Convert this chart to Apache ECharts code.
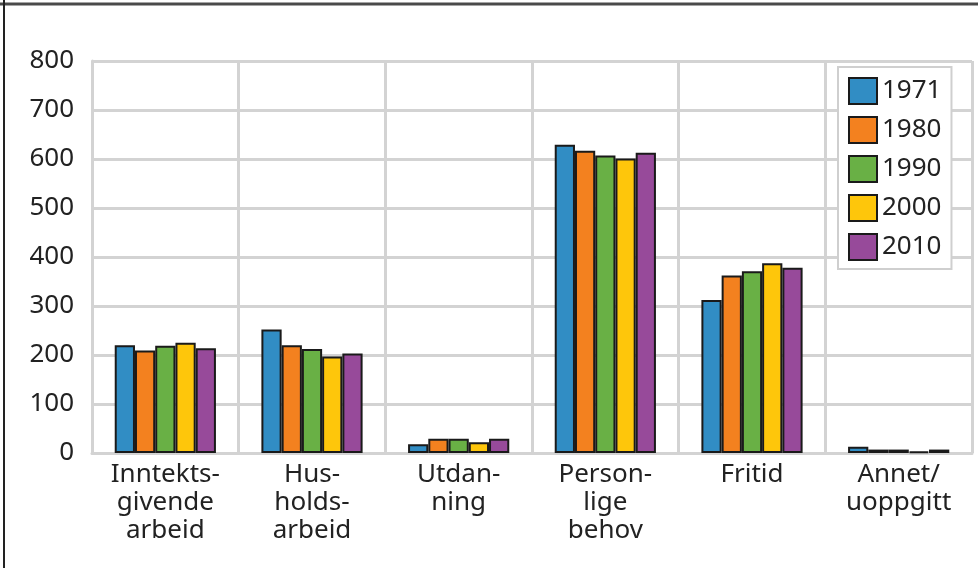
<!DOCTYPE html>
<html>
<head>
<meta charset="utf-8">
<style>html,body{margin:0;padding:0;background:#fff}#c{width:978px;height:568px}</style>
<script src="https://cdn.jsdelivr.net/npm/echarts@6/dist/echarts.min.js"></script>
</head>
<body>
<div id="c"></div>
<script>
const categories = ['Inntekts-\ngivende\narbeid', 'Hus-\nholds-\narbeid', 'Utdan-\nning', 'Person-\nlige\nbehov', 'Fritid', 'Annet/\nuoppgitt'];
const years = ['1971', '1980', '1990', '2000', '2010'];
const v1971 = [220, 252, 18, 629, 312, 13];
const v1980 = [209, 220, 29, 617, 362, 7];
const v1990 = [219, 212, 29, 607, 371, 7];
const v2000 = [225, 197, 22, 601, 387, 3];
const v2010 = [214, 203, 29, 613, 378, 7];
const yTicks = [0, 800, 100];
const colors = ['#318dc4', '#f3811f', '#69b045', '#fec60b', '#974a9a'];

const allValues = [v1971, v1980, v1990, v2000, v2010];
const font = 'Noto Sans';
const chart = echarts.init(document.getElementById('c'));
chart.setOption({
  animation: false,
  textStyle: {fontFamily: font},
  grid: {left: 92, right: 6, top: 61, bottom: 115},
  legend: {
    orient: 'vertical', left: 838, top: 67,
    itemWidth: 28, itemHeight: 26, itemGap: 11,
    padding: [10, 10, 8, 10],
    borderColor: '#cfcfcf', borderWidth: 2, backgroundColor: '#fff',
    icon: 'rect',
    textStyle: {fontSize: 26, color: '#222', fontFamily: font, padding: [0, 0, 0, 0]},
    itemStyle: {borderColor: '#1a1a1a', borderWidth: 2},
    data: years
  },
  xAxis: {
    type: 'category', data: categories,
    axisLine: {show: true, lineStyle: {color: '#d3d3d3', width: 3}},
    axisTick: {show: false},
    splitLine: {show: true, lineStyle: {color: '#d3d3d3', width: 3}},
    axisLabel: {fontSize: 26, color: '#222', lineHeight: 28, margin: 8, interval: 0, fontFamily: font}
  },
  yAxis: {
    type: 'value', min: yTicks[0], max: yTicks[1], interval: yTicks[2],
    axisLine: {show: true, lineStyle: {color: '#d3d3d3', width: 3}},
    axisTick: {show: false},
    splitLine: {show: true, lineStyle: {color: '#d3d3d3', width: 3}},
    axisLabel: {fontSize: 26, color: '#222', margin: 18, fontFamily: font}
  },
  series: years.map((y, i) => ({
    name: y, type: 'bar', data: allValues[i],
    barGap: '0%', barCategoryGap: '31%',
    itemStyle: {color: colors[i], borderColor: '#1a1a1a', borderWidth: 2}
  })),
  graphic: [
    {type: 'line', shape: {x1: 0, y1: 4, x2: 978, y2: 4}, style: {stroke: '#4a4a4a', lineWidth: 3}, z: 100},
    {type: 'line', shape: {x1: 4, y1: 0, x2: 4, y2: 568}, style: {stroke: '#222', lineWidth: 2}, z: 100}
  ]
});
</script>
</body>
</html>
